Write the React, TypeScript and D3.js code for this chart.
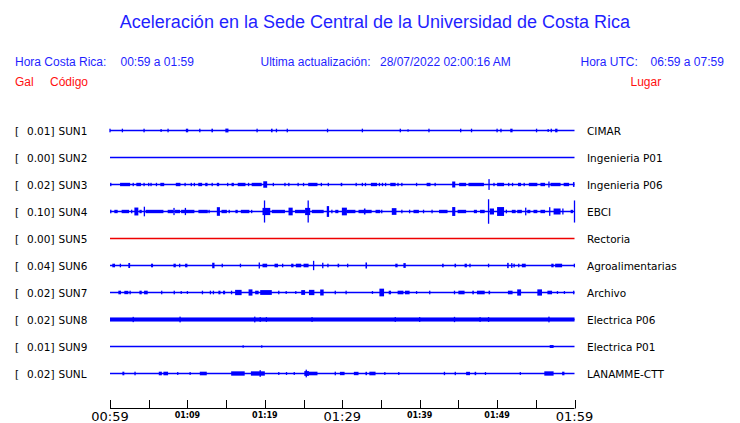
import React from "react";
import * as d3 from "d3";

// ---------- data ----------
const TITLE = "Aceleración en la Sede Central de la Universidad de Costa Rica";
const stations = ["SUN1", "SUN2", "SUN3", "SUN4", "SUN5", "SUN6", "SUN7", "SUN8", "SUN9", "SUNL"];
const galValues = ["0.01", "0.00", "0.02", "0.10", "0.00", "0.04", "0.02", "0.02", "0.01", "0.02"];
const places = ["CIMAR", "Ingenieria P01", "Ingenieria P06", "EBCI", "Rectoria", "Agroalimentarias", "Archivo", "Electrica P06", "Electrica P01", "LANAMME-CTT"];
const traceColors = ["blue", "blue", "blue", "blue", "red", "blue", "blue", "blue", "blue", "blue"];

// minutes after 00:59, tick step of 5 min
const tickMinutes = [0, 5, 10, 15, 20, 25, 30, 35, 40, 45, 50, 55, 60];
const tickLabels = ["00:59", "", "01:09", "", "01:19", "", "01:29", "", "01:39", "", "01:49", "", "01:59"];
const majorTicks = ["00:59", "01:29", "01:59"];

// bursts: [start minute, end minute, relative amplitude]
const sun1: number[][] = [[0, 0, .15], [1.6, 1.6, .15], [4.4, 4.4, .15], [6.6, 6.6, .12], [7.5, 7.5, .15], [9.8, 10.1, .15], [11.6, 11.6, .15], [13.1, 13.3, .15], [14.9, 15.3, .16], [19.0, 19.0, .15], [20.8, 21.0, .15], [21.5, 21.5, .15], [22.9, 22.9, .15], [28.1, 28.1, .15], [32.6, 32.6, .15], [37.5, 37.5, .15], [38.5, 38.5, .1], [41.2, 41.2, .15], [45.3, 45.3, .15], [46.7, 46.7, .15], [50.0, 50.0, .15], [50.5, 50.5, .15], [51.7, 52.0, .15], [55.1, 55.1, .15], [56.6, 56.6, .12], [57.0, 57.0, .15], [57.5, 57.8, .15]];
const sun2: number[][] = [];
const sun3: number[][] = [[0.1, 0.1, .14], [1.3, 2.6, .14], [3.0, 3.0, .14], [3.4, 4.0, .14], [4.4, 4.4, .14], [5.0, 5.0, .14], [5.3, 5.3, .14], [6.0, 6.0, .14], [6.5, 7.0, .14], [8.5, 9.1, .14], [9.7, 9.7, .14], [10.5, 10.5, .14], [10.9, 10.9, .14], [11.4, 11.9, .14], [12.3, 12.6, .14], [13.2, 13.2, .14], [13.8, 14.1, .14], [15.2, 15.2, .14], [15.7, 16.0, .14], [16.5, 17.5, .14], [17.9, 17.9, .14], [18.3, 19.6, .14], [19.8, 20.3, .27], [21.1, 21.1, .14], [22.6, 22.6, .14], [23.1, 23.1, .14], [24.3, 24.3, .14], [25.0, 25.0, .14], [25.6, 26.8, .14], [27.3, 27.3, .14], [28.2, 28.2, .14], [29.8, 30.0, .14], [31.8, 31.8, .14], [32.6, 32.6, .14], [33.0, 33.0, .14], [33.7, 34.5, .14], [34.8, 34.8, .14], [35.2, 35.2, .14], [35.6, 35.6, .14], [36.2, 36.9, .14], [37.2, 37.2, .14], [37.7, 37.7, .14], [39.6, 39.6, .14], [40.9, 41.4, .14], [42.0, 42.0, .14], [44.2, 44.6, .25], [45.1, 46.0, .14], [46.3, 48.3, .14], [48.96, 48.96, .45], [49.6, 49.6, .14], [50.0, 50.9, .14], [51.5, 51.5, .14], [52.0, 52.0, .14], [52.7, 53.1, .14], [53.5, 53.5, .14], [54.1, 55.2, .14], [55.6, 56.2, .14], [56.7, 56.7, .25], [56.9, 58.2, .14], [58.6, 59.3, .14], [59.8, 60.0, .2]];
const sun4: number[][] = [[0.1, 0.1, .15], [0.56, 0.99, .14], [1.5, 2.46, .14], [2.8, 2.8, .15], [3.15, 3.66, .33], [3.8, 4.1, .14], [4.44, 4.44, .4], [4.6, 6.9, .14], [7.45, 8.19, .14], [8.27, 8.27, .3], [8.4, 9.05, .14], [9.18, 10.9, .14], [9.74, 9.74, .3], [11.42, 12.63, .14], [12.8, 12.8, .14], [13.8, 14.2, .36], [14.4, 15.1, .14], [15.4, 15.4, .14], [16.2, 16.5, .14], [16.9, 18.0, .14], [18.3, 18.3, .14], [19.7, 20.7, .3], [19.96, 19.96, .92], [20.9, 22.6, .14], [23.06, 23.6, .32], [23.9, 25.2, .14], [25.2, 25.86, .3], [25.6, 25.6, .92], [26.07, 27.6, .14], [28.0, 28.3, .45], [28.66, 28.66, .15], [29.1, 29.5, .14], [29.95, 30.6, .32], [30.6, 31.7, .14], [32.1, 33.8, .14], [32.8, 33.0, .25], [34.3, 34.9, .14], [35.1, 35.1, .15], [36.4, 37.0, .28], [37.7, 37.7, .15], [38.7, 38.7, .15], [39.2, 39.9, .14], [40.5, 40.5, .15], [41.6, 41.6, .15], [42.5, 43.6, .14], [44.2, 44.6, .37], [44.9, 46.0, .14], [47.0, 47.4, .14], [47.8, 48.4, .14], [48.9, 48.9, 1.02], [49.05, 49.6, .25], [50.0, 50.9, .37], [51.2, 51.2, .15], [51.9, 52.4, .14], [52.6, 53.2, .14], [53.7, 53.7, .32], [53.9, 54.3, .14], [54.7, 55.2, .14], [55.6, 56.2, .14], [56.8, 56.8, .36], [57.3, 58.2, .25], [58.5, 58.5, .25], [59.5, 59.8, .14], [60.0, 60.0, .92]];
const sun5: number[][] = [];
const sun6: number[][] = [[0.3, 0.65, .15], [1.34, 1.34, .15], [2.37, 2.6, .21], [5.3, 5.56, .15], [8.2, 8.5, .15], [9.0, 9.0, .15], [9.7, 10.0, .15], [13.2, 13.5, .23], [14.5, 14.5, .15], [16.85, 16.85, .15], [19.2, 19.35, .25], [19.7, 20.3, .15], [21.25, 21.7, .15], [22.3, 22.3, .15], [23.4, 23.7, .15], [24.0, 24.7, .15], [25.0, 25.65, .15], [26.3, 26.3, .39], [27.4, 27.5, .23], [28.15, 28.15, .15], [29.4, 29.6, .15], [30.7, 30.7, .15], [33.0, 33.2, .25], [36.85, 37.15, .15], [37.9, 38.2, .2], [42.9, 43.1, .15], [44.5, 44.7, .15], [45.8, 46.1, .15], [46.5, 46.5, .15], [48.9, 48.9, .15], [51.3, 51.5, .22], [51.9, 51.9, .2], [52.2, 52.2, .15], [52.8, 52.8, .15], [53.2, 53.7, .15], [57.0, 57.3, .15], [57.5, 58.4, .15], [59.9, 60.0, .15]];
const sun7: number[][] = [[1.08, 1.42, .15], [1.85, 2.37, .14], [2.6, 2.6, .15], [3.8, 4.1, .15], [4.4, 4.87, .15], [6.68, 6.68, .15], [8.3, 8.3, .15], [9.2, 9.2, .12], [10.0, 10.0, .12], [11.94, 11.94, .15], [12.97, 12.97, .15], [13.36, 13.36, .15], [14.0, 14.27, .15], [14.6, 14.87, .15], [15.7, 15.7, .15], [16.16, 17.0, .22], [17.9, 18.4, .26], [18.75, 19.2, .15], [19.4, 20.9, .2], [21.8, 21.8, .15], [22.76, 22.76, .12], [24.0, 24.0, .12], [24.7, 25.2, .2], [25.7, 26.4, .22], [27.15, 27.6, .25], [29.1, 29.1, .15], [30.5, 30.5, .15], [33.9, 33.9, .12], [34.8, 35.4, .32], [36.0, 36.3, .15], [37.15, 37.9, .15], [38.1, 38.7, .15], [39.6, 39.6, .12], [41.3, 41.3, .15], [44.5, 44.5, .15], [45.0, 45.8, .15], [46.8, 47.0, .15], [47.4, 48.4, .15], [48.9, 49.1, .15], [51.4, 52.0, .15], [52.6, 53.1, .26], [55.2, 55.8, .26], [56.5, 57.1, .15], [57.8, 57.8, .12], [58.7, 58.7, .12], [59.9, 59.9, .15]];
const sun8: number[][] = [[0, 60, .17], [3.0, 3.0, .22], [9.05, 9.05, .24], [18.7, 18.7, .24], [19.4, 19.4, .2], [20.2, 20.2, .2], [26.1, 26.1, .2], [36.85, 36.85, .2], [40.0, 40.0, .2], [44.5, 44.5, .22], [47.8, 47.8, .2], [48.9, 48.9, .2], [56.7, 56.7, .24]];
const sun9: number[][] = [[17.2, 17.2, .1], [19.6, 19.6, .1], [56.8, 57.3, .12]];
const sunL: number[][] = [[1.6, 1.85, .15], [3.15, 3.3, .15], [6.3, 6.7, .15], [6.9, 7.5, .15], [8.75, 8.75, .12], [10.35, 10.35, .12], [11.6, 12.5, .15], [15.65, 17.4, .18], [18.2, 20.0, .18], [19.4, 19.4, .28], [21.8, 21.8, .12], [22.8, 22.8, .12], [23.8, 23.8, .12], [25.1, 25.7, .2], [25.35, 25.35, .32], [25.7, 26.8, .15], [29.1, 29.1, .15], [29.7, 30.3, .14], [31.5, 32.1, .14], [33.0, 33.2, .14], [33.5, 34.3, .15], [35.5, 35.5, .12], [37.3, 37.3, .12], [43.2, 43.2, .14], [44.6, 44.6, .14], [46.0, 46.5, .14], [47.1, 47.3, .14], [48.5, 48.5, .12], [53.0, 53.0, .12], [56.1, 57.3, .18], [58.4, 58.7, .15]];
const bursts = [sun1, sun2, sun3, sun4, sun5, sun6, sun7, sun8, sun9, sunL];

// ---------- layout ----------
const W = 740, H = 423;
const BLUE_TEXT = "#1f1fff";
const RED_TEXT = "#ff1010";
const sans = "'Liberation Sans', Arial, sans-serif";
const deja = "'DejaVu Sans', sans-serif";

export default function App() {
  const x = d3.scaleLinear().domain([0, 60]).range([110, 574.5]);
  const y = d3.scalePoint<string>().domain(stations).range([130.5, 373.5]);
  const amp = d3.scaleLinear().domain([0, 1]).range([0, 12]);
  const axisY = 408.5;

  return (
    <svg width={W} height={H} style={{ position: "absolute", left: 0, top: 0, background: "#fff" }}>
      <text x={375} y={28} textAnchor="middle" fill={BLUE_TEXT} fontFamily={sans} fontSize={18}>{TITLE}</text>

      <g fontFamily={sans} fontSize={12} fill={BLUE_TEXT}>
        <text x={15} y={65.5}>Hora Costa Rica:</text>
        <text x={120.5} y={65.5}>00:59 a 01:59</text>
        <text x={260.5} y={65.5}>Ultima actualización:</text>
        <text x={380} y={65.5}>28/07/2022 02:00:16 AM</text>
        <text x={580.5} y={65.5}>Hora UTC:</text>
        <text x={650.5} y={65.5}>06:59 a 07:59</text>
      </g>
      <g fontFamily={sans} fontSize={12} fill={RED_TEXT}>
        <text x={15} y={85.5}>Gal</text>
        <text x={50} y={85.5}>Código</text>
        <text x={630.5} y={85.5}>Lugar</text>
      </g>

      {stations.map((s, i) => {
        const yy = y(s)!;
        const col = traceColors[i] === "red" ? "#ee0000" : "#0000ff";
        return (
          <g key={s}>
            <g fontFamily={deja} fontSize={10.5} fill="#000">
              <text x={15} y={yy + 4}>[</text>
              <text x={27} y={yy + 4}>{galValues[i]}]</text>
              <text x={58.5} y={yy + 4}>{s}</text>
              <text x={587} y={yy + 4}>{places[i]}</text>
            </g>
            <line x1={x(0)} x2={x(60)} y1={yy} y2={yy} stroke={col} strokeWidth={1.3} />
            {bursts[i].map((b, j) => {
              const x0 = x(b[0]);
              const w = Math.max(1.3, x(b[1]) - x0);
              const h = amp(b[2]);
              return <rect key={j} x={x0 - (b[1] === b[0] ? 0.65 : 0)} y={yy - h} width={w} height={2 * h} fill={col} />;
            })}
          </g>
        );
      })}

      <g>
        <line x1={x(0)} x2={x(60)} y1={axisY} y2={axisY} stroke="#000" strokeWidth={1} />
        {tickMinutes.map((m, i) => (
          <g key={m}>
            <line x1={Math.round(x(m)) + 0.5} x2={Math.round(x(m)) + 0.5} y1={axisY - 8.5} y2={axisY} stroke="#000" strokeWidth={1} />
            {tickLabels[i] && (majorTicks.includes(tickLabels[i]) ? (
              <text x={x(m)} y={421} textAnchor="middle" fontFamily={deja} fontSize={13} fill="#000">{tickLabels[i]}</text>
            ) : (
              <text x={x(m)} y={418} textAnchor="middle" fontFamily={deja} fontSize={8} fontWeight="bold" fill="#000">{tickLabels[i]}</text>
            ))}
          </g>
        ))}
      </g>
    </svg>
  );
}
